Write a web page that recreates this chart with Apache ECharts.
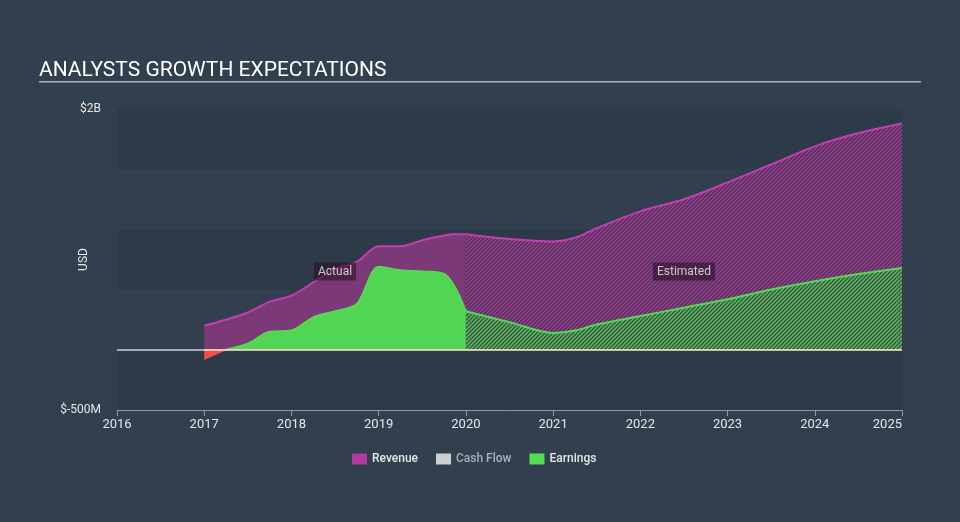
<!DOCTYPE html>
<html>
<head>
<meta charset="utf-8">
<script src="https://cdn.jsdelivr.net/npm/echarts@6/dist/echarts.min.js"></script>
<style>
  html, body { margin: 0; padding: 0; background: #323f4e; }
  #chart { width: 960px; height: 522px; }
</style>
</head>
<body>
<div id="chart"></div>
<script>
// actual period (quarterly)
const actualYears = [2017, 2017.25, 2017.5, 2017.75, 2018, 2018.25, 2018.5, 2018.75, 2019, 2019.25, 2019.5, 2019.75, 2019.875, 2020]
const revenueActual = [0.20, 0.25, 0.31, 0.40, 0.45, 0.56, 0.67, 0.73, 0.86, 0.86, 0.91, 0.95, 0.96, 0.96]
const earningsActual = [-0.08, 0.0, 0.05, 0.15, 0.16, 0.27, 0.32, 0.38, 0.69, 0.66, 0.65, 0.63, 0.52, 0.32]

// analyst estimates
const estimateYears = [2020, 2020.5, 2021, 2021.25, 2021.5, 2022, 2022.5, 2023, 2023.5, 2024, 2024.5, 2025]
const revenueEstimate = [0.96, 0.92, 0.90, 0.93, 1.01, 1.15, 1.25, 1.39, 1.54, 1.69, 1.80, 1.88]
const earningsEstimate = [0.32, 0.23, 0.14, 0.16, 0.21, 0.28, 0.35, 0.42, 0.50, 0.57, 0.63, 0.68]

const cashFlowYears = [2017, 2025]
const cashFlow = [0, 0]

const yTickLabels = { '2': '$2B', '-0.5': '$-500M' }

const pairs = (xs, ys) => xs.map((x, i) => [x, ys[i]])

// earnings are negative until the first zero crossing
const crossIdx = earningsActual.findIndex(v => v >= 0)
const earningsLoss = pairs(actualYears, earningsActual).slice(0, crossIdx + 1)
const earningsGain = pairs(actualYears, earningsActual).slice(crossIdx)

function hatch(bg, stripe) {
    const c = document.createElement('canvas')
    c.width = 4
    c.height = 4
    const ctx = c.getContext('2d')
    ctx.fillStyle = bg
    ctx.fillRect(0, 0, 4, 4)
    ctx.strokeStyle = stripe
    ctx.lineWidth = 1.3
    ctx.beginPath()
    ctx.moveTo(-1, 1); ctx.lineTo(1, -1)
    ctx.moveTo(-1, 5); ctx.lineTo(5, -1)
    ctx.moveTo(3, 5); ctx.lineTo(5, 3)
    ctx.stroke()
    return { image: c, repeat: 'repeat' }
}

const revColor = '#c13fb0'
const earnColor = '#55d955'
const lossColor = '#f2514b'
const chart = echarts.init(document.getElementById('chart'))

chart.setOption({
    backgroundColor: '#323f4e',
    textStyle: { fontFamily: 'Roboto' },
    title: {
        text: 'ANALYSTS GROWTH EXPECTATIONS',
        left: 34, top: 55,
        textStyle: { color: '#ffffff', fontSize: 21, fontWeight: 'normal' }
    },
    graphic: [{
        type: 'rect',
        shape: { x: 39, y: 81, width: 882, height: 1.5 },
        style: { fill: '#a9b0b8' }
    }],
    legend: {
        bottom: 52,
        left: 347,
        icon: 'rect',
        itemWidth: 15,
        itemHeight: 11,
        itemGap: 18,
        textStyle: { color: '#e6e6e6', fontSize: 12, fontWeight: 500 },
        data: [
            { name: 'Revenue', itemStyle: { color: '#b03aa0' } },
            { name: 'Cash Flow', itemStyle: { color: '#cfcfcf' }, textStyle: { color: '#aab0b7' } },
            { name: 'Earnings', itemStyle: { color: '#50e050' } }
        ]
    },
    grid: { left: 117, right: 58, top: 109, bottom: 112 },
    xAxis: {
        type: 'value',
        min: 2016, max: 2025, interval: 1,
        axisLine: { onZero: false, lineStyle: { color: '#8f99a5', width: 1 } },
        axisTick: { length: 6, lineStyle: { color: '#8f99a5' } },
        axisLabel: { color: '#e6e6e6', fontSize: 13, margin: 8, alignMaxLabel: 'right', formatter: v => String(v) },
        splitLine: { show: false }
    },
    yAxis: {
        type: 'value',
        min: -0.5, max: 2, interval: 0.5,
        name: 'USD',
        nameLocation: 'middle',
        nameGap: 27,
        nameMoveOverlap: false,
        nameTextStyle: { color: '#e6e6e6', fontSize: 12 },
        axisLine: { show: false },
        axisTick: { show: false },
        axisLabel: { color: '#e6e6e6', fontSize: 12, margin: 16, formatter: v => yTickLabels[String(v)] || '' },
        splitLine: { show: false },
        splitArea: { show: true, areaStyle: { color: ['#2d3a48', '#323f4e'] } }
    },
    series: [
        {
            name: 'Revenue', type: 'line', smooth: 0.3, symbol: 'none',
            data: pairs(actualYears, revenueActual),
            lineStyle: { color: revColor, width: 2 },
            itemStyle: { color: revColor },
            areaStyle: { color: '#7b3a77', opacity: 1 },
            markLine: {
                silent: true, symbol: 'none', label: { show: false },
                lineStyle: { color: '#d0d0d0', width: 1.5, type: 'solid' },
                data: [{ yAxis: 0 }]
            },
            z: 2
        },
        {
            name: 'Revenue', type: 'line', smooth: 0.3, symbol: 'none',
            data: pairs(estimateYears, revenueEstimate),
            lineStyle: { color: revColor, width: 2 },
            itemStyle: { color: revColor },
            areaStyle: { color: hatch('#4c3153', '#a23f99'), opacity: 1 },
            z: 2
        },
        {
            name: 'Cash Flow', type: 'line', symbol: 'none',
            data: pairs(cashFlowYears, cashFlow),
            lineStyle: { color: '#e8d4aa', width: 1.5 },
            itemStyle: { color: '#cfcfcf' },
            z: 5
        },
        {
            name: 'Earnings', type: 'line', symbol: 'none',
            data: earningsLoss,
            lineStyle: { color: lossColor, width: 1 },
            itemStyle: { color: lossColor },
            areaStyle: { color: lossColor, opacity: 1 },
            z: 3
        },
        {
            name: 'Earnings', type: 'line', smooth: 0.3, symbol: 'none',
            data: earningsGain,
            lineStyle: { color: earnColor, width: 2 },
            itemStyle: { color: earnColor },
            areaStyle: { color: '#52d552', opacity: 1 },
            z: 3
        },
        {
            name: 'Earnings', type: 'line', smooth: 0.3, symbol: 'none',
            data: pairs(estimateYears, earningsEstimate),
            lineStyle: { color: earnColor, width: 2 },
            itemStyle: { color: earnColor },
            areaStyle: { color: hatch('#3a5546', '#5dbf5d'), opacity: 1 },
            z: 3
        },
        {
            // period annotations
            type: 'scatter', symbolSize: 0, silent: true, z: 6,
            data: [[2018.5, 0.65, 'Actual'], [2022.5, 0.65, 'Estimated']],
            label: {
                show: true, position: 'inside', color: '#f0f0f0', fontSize: 12,
                backgroundColor: 'rgba(40,20,40,0.75)', padding: [3, 4],
                formatter: p => p.value[2]
            }
        }
    ]
})
</script>
</body>
</html>
